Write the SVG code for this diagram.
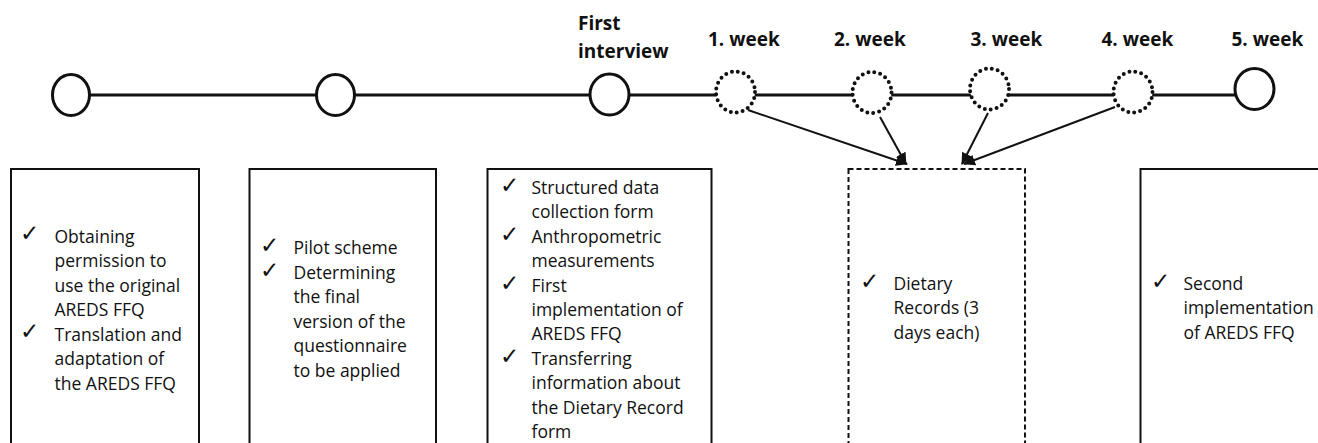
<svg xmlns="http://www.w3.org/2000/svg" width="1318" height="443" viewBox="0 0 1318 443">
<style>
.lbl{font-family:"Open Sans","Noto Sans",sans-serif;font-weight:bold;font-size:19px;fill:#111}
.t{font-family:"Open Sans","Noto Sans",sans-serif;font-size:17.5px;fill:#111}
.ck{font-family:"DejaVu Sans",sans-serif;font-size:23px;fill:#111}
.box{fill:none;stroke:#111;stroke-width:2}
.dbox{fill:none;stroke:#111;stroke-width:2;stroke-dasharray:5 3}
.c{fill:#fff;stroke:#111;stroke-width:3}
.dc{fill:#fff;stroke:#111;stroke-width:4;stroke-dasharray:0 6;stroke-linecap:round}
.ar{stroke:#111;stroke-width:2;fill:none;marker-end:url(#ah)}
</style>
<defs>
<marker id="ah" markerUnits="userSpaceOnUse" markerWidth="14" markerHeight="12" refX="11" refY="5.5" orient="auto">
<path d="M0,0 L12,5.5 L0,11 Z" fill="#111"/>
</marker>
</defs>
<rect width="1318" height="443" fill="#fff"/>
<g id="connectors">
<line x1="71" y1="95" x2="1254" y2="95" stroke="#111" stroke-width="3"/>
<line class="ar" x1="748" y1="110" x2="907" y2="164"/>
<line class="ar" x1="880" y1="117" x2="906" y2="164"/>
<line class="ar" x1="988" y1="113" x2="962" y2="164"/>
<line class="ar" x1="1115" y1="107" x2="964" y2="164"/>
</g>
<g id="n-start"><ellipse class="c" cx="71" cy="95" rx="18.5" ry="20.5"/></g>
<g id="n-pilot"><ellipse class="c" cx="335.5" cy="95" rx="19" ry="20.5"/></g>
<g id="n-first"><ellipse class="c" cx="609.5" cy="94.5" rx="19.5" ry="20.5"/>
<text class="lbl" x="578" y="29.5">First</text><text class="lbl" x="578" y="58">interview</text></g>
<g id="n-w1"><ellipse class="dc" cx="735.5" cy="92" rx="19.5" ry="20.5"/><text class="lbl" x="708" y="46">1. week</text></g>
<g id="n-w2"><ellipse class="dc" cx="872" cy="92.5" rx="19.5" ry="20.5"/><text class="lbl" x="834" y="46">2. week</text></g>
<g id="n-w3"><ellipse class="dc" cx="989.5" cy="89" rx="19.5" ry="20.5"/><text class="lbl" x="970.5" y="46">3. week</text></g>
<g id="n-w4"><ellipse class="dc" cx="1133" cy="92" rx="19.5" ry="20.5"/><text class="lbl" x="1101.5" y="46">4. week</text></g>
<g id="n-w5"><ellipse class="c" cx="1254.5" cy="89" rx="19.5" ry="20.5"/><text class="lbl" x="1231.5" y="46">5. week</text></g>
<g id="box1">
<rect class="box" x="11" y="169" width="188" height="290"/>
<text class="ck" x="20" y="241">✓</text><text class="ck" x="20" y="339">✓</text>
<text class="t" x="54.5" y="242.5">Obtaining</text>
<text class="t" x="54.5" y="267">permission to</text>
<text class="t" x="54.5" y="291.5">use the original</text>
<text class="t" x="54.5" y="316">AREDS FFQ</text>
<text class="t" x="54.5" y="340.5">Translation and</text>
<text class="t" x="54.5" y="365">adaptation of</text>
<text class="t" x="54.5" y="389.5">the AREDS FFQ</text>
</g>
<g id="box2">
<rect class="box" x="249.5" y="169" width="186.5" height="290"/>
<text class="ck" x="260" y="253">✓</text><text class="ck" x="260" y="277.5">✓</text>
<text class="t" x="293.5" y="254">Pilot scheme</text>
<text class="t" x="293.5" y="278.5">Determining</text>
<text class="t" x="293.5" y="303">the final</text>
<text class="t" x="293.5" y="327.5">version of the</text>
<text class="t" x="293.5" y="352">questionnaire</text>
<text class="t" x="293.5" y="376.5">to be applied</text>
</g>
<g id="box3">
<rect class="box" x="487.5" y="169" width="224" height="290"/>
<text class="ck" x="500" y="193">✓</text><text class="ck" x="500" y="242">✓</text>
<text class="ck" x="500" y="290.5">✓</text><text class="ck" x="500" y="363.5">✓</text>
<text class="t" x="531.5" y="194">Structured data</text>
<text class="t" x="531.5" y="218.4">collection form</text>
<text class="t" x="531.5" y="242.8">Anthropometric</text>
<text class="t" x="531.5" y="267.2">measurements</text>
<text class="t" x="531.5" y="291.6">First</text>
<text class="t" x="531.5" y="316">implementation of</text>
<text class="t" x="531.5" y="340.4">AREDS FFQ</text>
<text class="t" x="531.5" y="364.8">Transferring</text>
<text class="t" x="531.5" y="389.2">information about</text>
<text class="t" x="531.5" y="413.6">the Dietary Record</text>
<text class="t" x="531.5" y="438">form</text>
</g>
<g id="box4">
<rect class="dbox" x="848.5" y="169" width="176.5" height="290"/>
<text class="ck" x="860" y="289">✓</text>
<text class="t" x="893.5" y="290">Dietary</text>
<text class="t" x="893.5" y="314.3">Records (3</text>
<text class="t" x="893.5" y="338.6">days each)</text>
</g>
<g id="box5">
<rect class="box" x="1140.5" y="169" width="200" height="290"/>
<text class="ck" x="1151" y="289">✓</text>
<text class="t" x="1183.5" y="290">Second</text>
<text class="t" x="1183.5" y="314.3">implementation</text>
<text class="t" x="1183.5" y="338.6">of AREDS FFQ</text>
</g>
</svg>
